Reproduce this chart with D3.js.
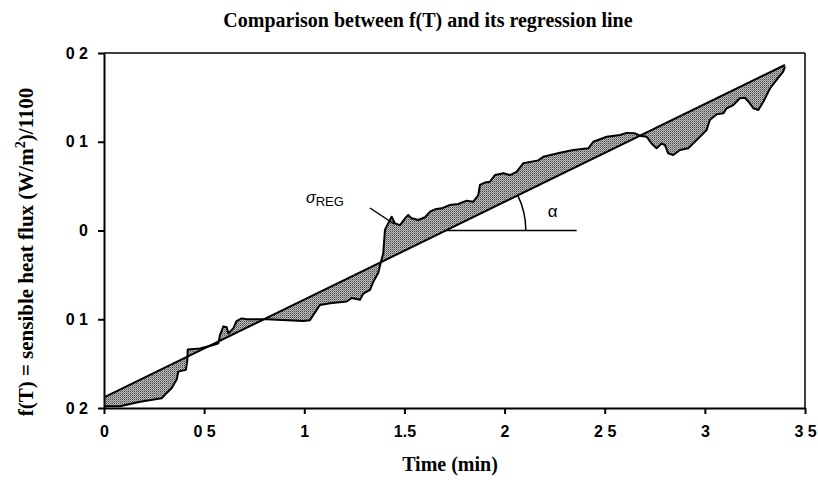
<!DOCTYPE html>
<html>
<head>
<meta charset="utf-8">
<script src="https://cdn.jsdelivr.net/npm/d3@7"></script>
<style>
  body { margin: 0; background: #fff; }
  .tick text { font-family: "Liberation Sans", Arial, sans-serif; font-size: 16px; font-weight: bold; }
  .ttl { font-family: "Liberation Serif", "Times New Roman", serif; font-weight: bold; }
</style>
</head>
<body>
<div id="chart"></div>
<script>
var svgWidth = 818;
var svgHeight = 488;

var margin = { top: 53, right: 13, bottom: 80, left: 104 };
var width = svgWidth - margin.left - margin.right;
var height = svgHeight - margin.top - margin.bottom;

// f(T): time (min) and value
var timeVals = [0, 0.08, 0.18, 0.288, 0.313, 0.338, 0.363, 0.371, 0.409, 0.416, 0.418,
  0.479, 0.546, 0.571, 0.579, 0.596, 0.613, 0.621, 0.646, 0.662, 0.687, 0.712, 0.812,
  0.995, 1.028, 1.078, 1.128, 1.212, 1.237, 1.278, 1.295, 1.328, 1.344, 1.369, 1.381,
  1.394, 1.403, 1.419, 1.436, 1.453, 1.478, 1.503, 1.519, 1.536, 1.569, 1.603, 1.628,
  1.653, 1.686, 1.727, 1.769, 1.811, 1.844, 1.869, 1.877, 1.902, 1.927, 1.952, 1.994,
  2.027, 2.060, 2.093, 2.168, 2.193, 2.277, 2.343, 2.418, 2.443, 2.510, 2.576, 2.610,
  2.651, 2.679, 2.709, 2.734, 2.759, 2.784, 2.801, 2.817, 2.842, 2.876, 2.917, 2.959,
  3.009, 3.025, 3.059, 3.092, 3.109, 3.142, 3.175, 3.200, 3.225, 3.242, 3.267, 3.292,
  3.325, 3.358, 3.391, 3.400];
var fVals = [-0.198, -0.198, -0.193, -0.189, -0.183, -0.1775, -0.168, -0.159, -0.157, -0.146, -0.134,
  -0.133, -0.129, -0.127, -0.118, -0.108, -0.109, -0.116, -0.110, -0.102, -0.099, -0.100, -0.100,
  -0.102, -0.101, -0.084, -0.082, -0.080, -0.076, -0.078, -0.071, -0.067, -0.058, -0.048, -0.037,
  -0.026, 0.001, 0.008, 0.0155, 0.008, 0.006, 0.0137, 0.0175, 0.0137, 0.0118, 0.0149, 0.0212,
  0.0239, 0.025, 0.0287, 0.0299, 0.0336, 0.0325, 0.040, 0.0513, 0.054, 0.055, 0.0625, 0.0645,
  0.0625, 0.066, 0.0757, 0.079, 0.083, 0.0877, 0.0907, 0.0926, 0.100, 0.1057, 0.1076, 0.110,
  0.1095, 0.1065, 0.1057, 0.098, 0.0926, 0.098, 0.0963, 0.087, 0.085, 0.0907, 0.0926, 0.102,
  0.1132, 0.1245, 0.131, 0.132, 0.1377, 0.1414, 0.149, 0.1496, 0.1433, 0.1377, 0.1358, 0.1451,
  0.160, 0.1696, 0.179, 0.1846];

// regression line end points
var regTime = [0, 3.40];
var regVals = [-0.188, 0.1865];
var horizEnd = 2.36;   // end of the horizontal reference line

var xTicks = [0, 0.5, 1, 1.5, 2, 2.5, 3, 3.5];
var xTickLabels = ["0", "0 5", "1", "1.5", "2", "2 5", "3", "3 5"];
var yTicks = [0.2, 0.1, 0, -0.1, -0.2];
var yTickLabels = ["0 2", "0 1", "0", "0 1", "0 2"];

var slope = (regVals[1] - regVals[0]) / (regTime[1] - regTime[0]);
function reg(t) { return regVals[0] + slope * (t - regTime[0]); }
var zeroTime = regTime[0] - regVals[0] / slope;

var data = timeVals.map(function(t, i) { return { t: t, v: fVals[i] }; });

var svg = d3.select("#chart")
  .append("svg")
  .attr("width", svgWidth)
  .attr("height", svgHeight);

// stipple fill like the scan
var defs = svg.append("defs");
var pat = defs.append("pattern")
  .attr("id", "stip")
  .attr("width", 2).attr("height", 2)
  .attr("patternUnits", "userSpaceOnUse");
pat.append("rect").attr("width", 2).attr("height", 2).attr("fill", "#bdbdbd");
pat.append("rect").attr("width", 1).attr("height", 1).attr("fill", "#454545");
pat.append("rect").attr("x", 1).attr("y", 1).attr("width", 1).attr("height", 1).attr("fill", "#858585");

var chartGroup = svg.append("g")
  .attr("transform", `translate(${margin.left}, ${margin.top})`);

var xScale = d3.scaleLinear().domain([0, 3.5]).range([0, width]);
var yScale = d3.scaleLinear().domain([-0.2, 0.2]).range([height, 0]);

// shaded area between f(T) and regression line
var area = d3.area()
  .x(d => xScale(d.t))
  .y0(d => yScale(reg(d.t)))
  .y1(d => yScale(d.v));

chartGroup.append("path")
  .datum(data)
  .attr("d", area)
  .attr("fill", "url(#stip)");

// f(T) curve
var line = d3.line()
  .x(d => xScale(d.t))
  .y(d => yScale(d.v));

chartGroup.append("path")
  .datum(data)
  .attr("d", line)
  .attr("fill", "none")
  .attr("stroke", "#000")
  .attr("stroke-width", 2)
  .attr("stroke-linejoin", "round");

// regression line
chartGroup.append("line")
  .attr("x1", xScale(regTime[0])).attr("y1", yScale(regVals[0]))
  .attr("x2", xScale(regTime[1])).attr("y2", yScale(regVals[1]))
  .attr("stroke", "#000")
  .attr("stroke-width", 2);

// horizontal line at zero crossing
chartGroup.append("line")
  .attr("x1", xScale(zeroTime)).attr("y1", yScale(0))
  .attr("x2", xScale(horizEnd)).attr("y2", yScale(0))
  .attr("stroke", "#000")
  .attr("stroke-width", 1.5);

// angle arc
var cx = xScale(zeroTime), cy = yScale(0);
var r = 80;
var theta = Math.atan2(yScale(0) - yScale(slope), xScale(1) - xScale(0));
chartGroup.append("path")
  .attr("d", `M${cx + r},${cy} A${r},${r} 0 0 0 ${cx + r * Math.cos(theta)},${cy - r * Math.sin(theta)}`)
  .attr("fill", "none")
  .attr("stroke", "#000")
  .attr("stroke-width", 1.5);

chartGroup.append("text")
  .attr("x", cx + 102)
  .attr("y", cy - 14)
  .attr("font-family", "Liberation Sans, Arial, sans-serif")
  .attr("font-size", 17)
  .text("α");

// sigma_REG label and pointer
chartGroup.append("line")
  .attr("x1", 370 - margin.left).attr("y1", 208 - margin.top)
  .attr("x2", 394 - margin.left).attr("y2", 224 - margin.top)
  .attr("stroke", "#000")
  .attr("stroke-width", 1.5);

var sig = chartGroup.append("text")
  .attr("x", 306 - margin.left)
  .attr("y", 203 - margin.top)
  .attr("font-family", "Liberation Sans, Arial, sans-serif");
sig.append("tspan").attr("font-size", 16).attr("font-style", "italic").text("σ");
sig.append("tspan").attr("font-size", 13).attr("dy", 3).text("REG");

// axes
var bottomAxis = d3.axisBottom(xScale)
  .tickValues(xTicks)
  .tickFormat((d, i) => xTickLabels[i])
  .tickSizeInner(6).tickSizeOuter(0).tickPadding(12);
var leftAxis = d3.axisLeft(yScale)
  .tickValues(yTicks)
  .tickFormat((d, i) => yTickLabels[i])
  .tickSizeInner(6).tickSizeOuter(0).tickPadding(10);

var gx = chartGroup.append("g")
  .attr("transform", `translate(0, ${height})`)
  .call(bottomAxis);
var gy = chartGroup.append("g")
  .call(leftAxis);
[gx, gy].forEach(function(g) {
  g.select(".domain").attr("stroke-width", 2);
  g.selectAll(".tick line").attr("stroke-width", 2);
});

// frame on top and right
chartGroup.append("line")
  .attr("x1", 0).attr("y1", 0).attr("x2", width).attr("y2", 0)
  .attr("stroke", "#000").attr("stroke-width", 1.5);
chartGroup.append("line")
  .attr("x1", width).attr("y1", 0).attr("x2", width).attr("y2", height)
  .attr("stroke", "#000").attr("stroke-width", 1.5);

// titles
svg.append("text")
  .attr("class", "ttl")
  .attr("x", 428).attr("y", 27)
  .attr("text-anchor", "middle")
  .attr("font-size", 20)
  .text("Comparison between f(T) and its regression line");

svg.append("text")
  .attr("class", "ttl")
  .attr("x", 450).attr("y", 471)
  .attr("text-anchor", "middle")
  .attr("font-size", 20)
  .text("Time (min)");

var yl = svg.append("text")
  .attr("class", "ttl")
  .attr("transform", "translate(33, 252) rotate(-90)")
  .attr("text-anchor", "middle")
  .attr("font-size", 21);
yl.append("tspan").text("f(T) = sensible heat flux (W/m");
yl.append("tspan").attr("font-size", 14).attr("dy", -8).text("2");
yl.append("tspan").attr("dy", 8).text(")/1100");
</script>
</body>
</html>
